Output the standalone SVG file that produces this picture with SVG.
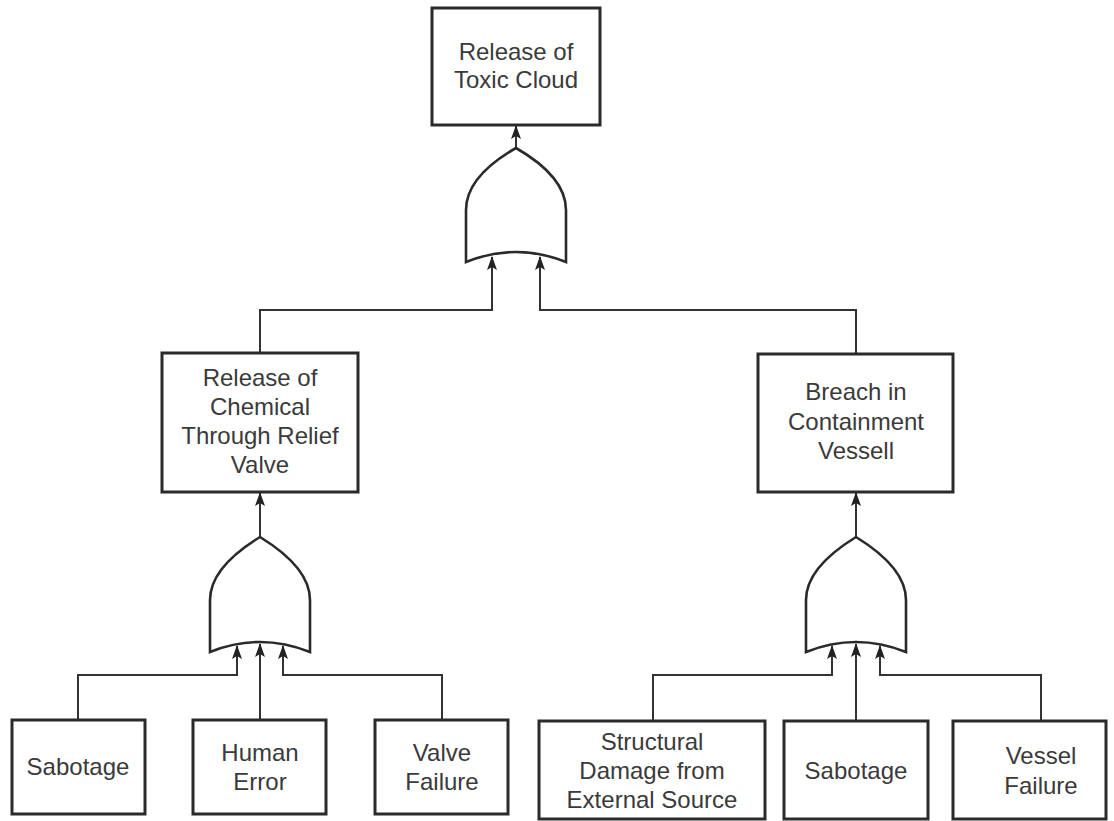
<svg xmlns="http://www.w3.org/2000/svg" width="1114" height="821" viewBox="0 0 1114 821">
<style>
.box{fill:#fff;stroke:#2a2a2a;stroke-width:3}
.gate{fill:#fff;stroke:#2a2a2a;stroke-width:2.6;stroke-linejoin:miter}
.con{fill:none;stroke:#333;stroke-width:2}
text{font-family:"Liberation Sans",Arial,sans-serif;font-size:24px;fill:#3a3a3a;text-anchor:middle}
</style>
<defs>
<marker id="ah" markerUnits="userSpaceOnUse" markerWidth="14" markerHeight="11" refX="13" refY="5" orient="auto" viewBox="0 0 14 10">
<path d="M0,0 L14,5 L0,10 L3,5 Z" fill="#222"/>
</marker>
</defs>
<rect width="1114" height="821" fill="#fff"/>
<g id="connectors">
<path class="con" d="M516,148 V126" marker-end="url(#ah)"/>
<path class="con" d="M260,353 V310 H492 V257" marker-end="url(#ah)"/>
<path class="con" d="M856,354 V310 H540 V257" marker-end="url(#ah)"/>
<path class="con" d="M260,537 V493" marker-end="url(#ah)"/>
<path class="con" d="M856,537 V493" marker-end="url(#ah)"/>
<path class="con" d="M78,720 V675 H237 V646" marker-end="url(#ah)"/>
<path class="con" d="M260,720 V644" marker-end="url(#ah)"/>
<path class="con" d="M442,720 V675 H283 V646" marker-end="url(#ah)"/>
<path class="con" d="M653,721 V675 H832 V646" marker-end="url(#ah)"/>
<path class="con" d="M856,721 V644" marker-end="url(#ah)"/>
<path class="con" d="M1041,721 V675 H880 V646" marker-end="url(#ah)"/>
</g>
<g id="top">
<rect class="box" x="432" y="8" width="168" height="117"/>
<text x="516" y="60">Release of</text>
<text x="516" y="88">Toxic Cloud</text>
</g>
<g id="gate-top">
<path class="gate" d="M466,262 V210 C466,184 490,163 516,148 C542,163 566,184 566,210 V262 Q516,242 466,262 Z"/>
</g>
<g id="relief">
<rect class="box" x="162" y="353" width="196" height="139"/>
<text x="260" y="386">Release of</text>
<text x="260" y="415">Chemical</text>
<text x="260" y="444">Through Relief</text>
<text x="260" y="473">Valve</text>
</g>
<g id="breach">
<rect class="box" x="758" y="354" width="195" height="138"/>
<text x="856" y="400">Breach in</text>
<text x="856" y="430">Containment</text>
<text x="856" y="459">Vessell</text>
</g>
<g id="gate-left">
<path class="gate" d="M210,652 V600 C210,574 234,553 260,537 C286,553 310,574 310,600 V652 Q260,632 210,652 Z"/>
</g>
<g id="gate-right">
<path class="gate" d="M806,652 V600 C806,574 830,553 856,537 C882,553 906,574 906,600 V652 Q856,632 806,652 Z"/>
</g>
<g id="sabotage1">
<rect class="box" x="12" y="720" width="133" height="94"/>
<text x="78" y="775">Sabotage</text>
</g>
<g id="human-error">
<rect class="box" x="193" y="720" width="133" height="94"/>
<text x="260" y="761">Human</text>
<text x="260" y="790">Error</text>
</g>
<g id="valve-failure">
<rect class="box" x="375" y="720" width="133" height="94"/>
<text x="442" y="761">Valve</text>
<text x="442" y="790">Failure</text>
</g>
<g id="structural">
<rect class="box" x="539" y="721" width="226" height="98"/>
<text x="652" y="750">Structural</text>
<text x="652" y="779">Damage from</text>
<text x="652" y="808">External Source</text>
</g>
<g id="sabotage2">
<rect class="box" x="784" y="721" width="144" height="98"/>
<text x="856" y="779">Sabotage</text>
</g>
<g id="vessel-failure">
<rect class="box" x="953" y="721" width="153" height="98"/>
<text x="1041" y="764">Vessel</text>
<text x="1041" y="794">Failure</text>
</g>
</svg>
